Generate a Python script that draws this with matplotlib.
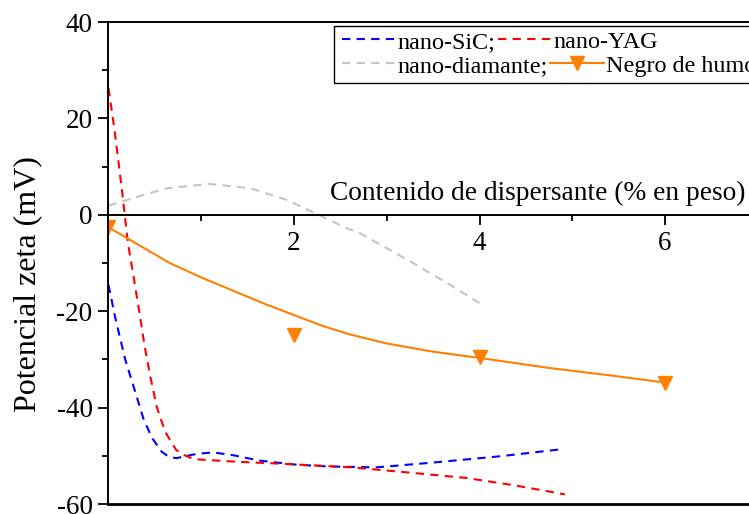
import matplotlib
matplotlib.use("Agg")
import matplotlib.pyplot as plt
from matplotlib.lines import Line2D
from matplotlib.patches import Rectangle
from matplotlib.ticker import FixedLocator

plt.rcParams['font.family'] = ['Liberation Serif', 'DejaVu Serif']
plt.rcParams['axes.unicode_minus'] = False

# nano-SiC
sic_x = [0, 0.07, 0.18, 0.27, 0.38, 0.47, 0.57, 0.65, 0.73, 0.85, 0.95, 1.13, 1.35,
         1.63, 2.0, 2.35, 2.89, 3.5, 4.22, 4.9]
sic_y = [-14.5, -21.1, -30.0, -35.6, -42.5, -46.3, -49.1, -50.2, -50.5, -50.0, -49.6,
         -49.3, -49.9, -51.0, -51.8, -52.2, -52.4, -51.4, -50.1, -48.6]

# nano-YAG
yag_x = [0, 0.07, 0.14, 0.21, 0.27, 0.34, 0.39, 0.45, 0.52, 0.61, 0.73, 0.81, 0.92,
         1.35, 1.92, 2.62, 3.14, 3.86, 4.4, 4.92]
yag_y = [26.3, 16.9, 5.9, -5.9, -12.8, -21.1, -27.3, -33.5, -39.8, -45.0, -48.8, -49.8,
         -50.7, -51.2, -51.7, -52.4, -53.3, -54.6, -56.2, -58.0]

# nano-diamante
dia_x = [0, 0.27, 0.63, 1.09, 1.53, 1.92, 2.21, 2.57, 2.71, 3.22, 3.68, 4.0]
dia_y = [1.9, 3.5, 5.5, 6.4, 5.5, 3.1, 0.5, -2.8, -3.8, -9.3, -14.5, -18.3]

# Negro de humo: measured points and fitted trend
ndh_x = [0, 2, 4, 6]
ndh_y = [-2.5, -24.9, -29.4, -34.9]
fit_x = [0, 0.33, 0.66, 1.0, 1.35, 1.7, 2.0, 2.3, 2.6, 3.0, 3.5, 4.0, 4.76, 5.4, 6.0]
fit_y = [-2.6, -6.3, -10.0, -13.0, -15.8, -18.6, -20.8, -23.0, -24.8, -26.7, -28.4,
         -29.7, -31.8, -33.3, -34.8]

x_major = [2, 4, 6]
x_minor = [1, 3, 5]
y_major = [-60, -40, -20, 0, 20, 40]
y_minor = [-50, -30, -10, 10, 30]

W, H = 749, 514
fig = plt.figure(figsize=(W / 100, H / 100), dpi=100)
ax = fig.add_axes([108.5 / W, 1 - 504 / H, 1 - 108.5 / W, (504 - 22) / H])

orange = '#ff8000'
dash = (4, 3)
lw_d = 1.5
h_sic, = ax.plot(sic_x, sic_y, color='#0000ff', lw=lw_d, dashes=dash)
h_yag, = ax.plot(yag_x, yag_y, color='#ff0000', lw=lw_d, dashes=dash)
h_dia, = ax.plot(dia_x, dia_y, color='#c4c4c4', lw=lw_d, dashes=dash)
ax.plot(fit_x, fit_y, color=orange, lw=1.5)
ax.plot(ndh_x, ndh_y, ls='none', marker='v', color=orange, ms=9.5)
h_ndh = Line2D([], [], color=orange, lw=1.5, marker='v', ms=9.5)

ax.set_xlim(0, (W - 108.5) / 92.75)
ax.set_ylim(-60, 40)

ax.spines['right'].set_visible(False)
ax.spines['bottom'].set_position(('data', 0))
for s in ('left', 'bottom', 'top'):
    ax.spines[s].set_linewidth(1.4)
ax.axhline(-60, color='k', lw=2.0, clip_on=False, zorder=5)

ax.xaxis.set_major_locator(FixedLocator(x_major))
ax.xaxis.set_minor_locator(FixedLocator(x_minor))
ax.set_xticklabels([str(v) for v in x_major])
ax.yaxis.set_major_locator(FixedLocator(y_major))
ax.yaxis.set_minor_locator(FixedLocator(y_minor))
ax.set_yticklabels([str(v) for v in y_major])

ax.tick_params(axis='both', which='major', direction='out', length=7, width=1.3,
               labelsize=19.5, pad=4.5)
ax.tick_params(axis='both', which='minor', direction='out', length=4, width=1.3)
ax.tick_params(axis='x', top=False)
ax.tick_params(axis='y', right=False)

fig.text(745 / W, 1 - 200 / H, 'Contenido de dispersante (% en peso)',
         ha='right', va='baseline', fontsize=19.7)
fig.text(28 / W, 1 - 284 / H, 'Potencial zeta (mV)', rotation=90,
         ha='center', va='center', fontsize=23)

# legend frame and two rows
frame = Rectangle((334 / W, 1 - 83 / H), (W - 334) / W + 0.02, 57 / H,
                  transform=fig.transFigure, facecolor='white', edgecolor='black',
                  lw=1.0, zorder=6)
fig.add_artist(frame)

leg_kw = dict(ncol=2, frameon=False, fontsize=17.4, handlelength=2.2,
              handletextpad=0.1, columnspacing=0.1, borderpad=0, borderaxespad=0,
              loc='center left', bbox_transform=fig.transFigure)
leg1 = fig.legend([h_sic, h_yag], ['nano-SiC;', 'nano-YAG'],
                  bbox_to_anchor=(342 / W, 1 - 42 / H), **leg_kw)
leg2 = fig.legend([h_dia, h_ndh], ['nano-diamante;', 'Negro de humo'],
                  bbox_to_anchor=(342 / W, 1 - 66 / H), **leg_kw)
leg1.set_zorder(7)
leg2.set_zorder(7)

fig.savefig('out.png', dpi=100)
